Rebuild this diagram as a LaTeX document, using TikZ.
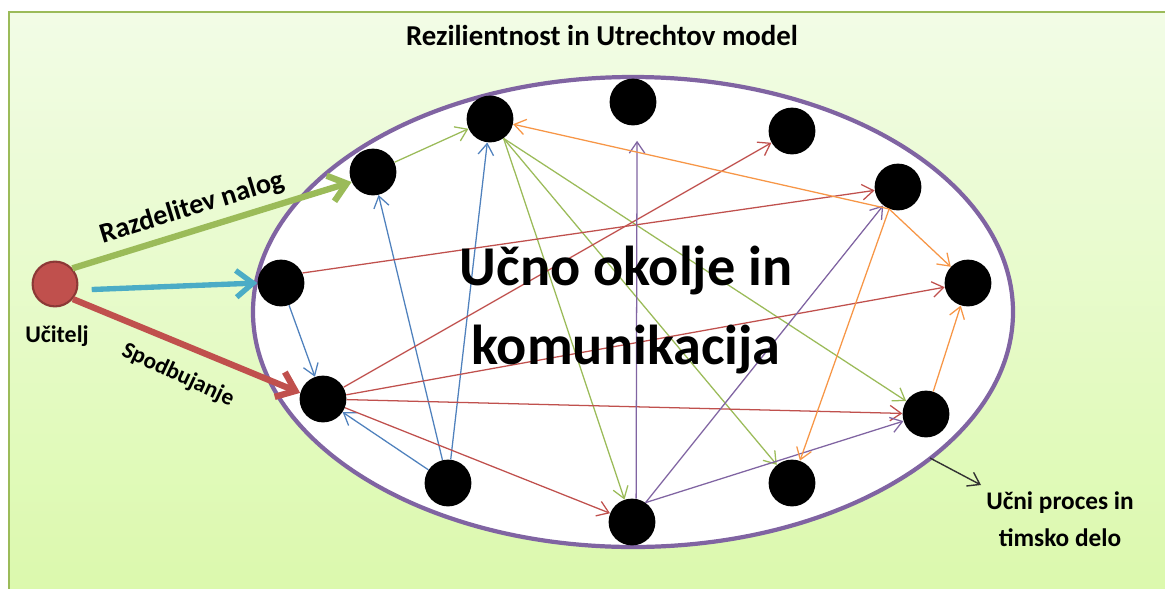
\documentclass[tikz,border=0pt]{standalone}
\usepackage{fontspec}
\setmainfont{Carlito}
\usetikzlibrary{arrows.meta, positioning, calc}
\definecolor{ofGreen}{HTML}{9BBB59}
\definecolor{ofBlue}{HTML}{4F81BD}
\definecolor{ofAqua}{HTML}{4BACC6}
\definecolor{ofRed}{HTML}{C0504D}
\definecolor{ofDarkRed}{HTML}{8C3836}
\definecolor{ofPurple}{HTML}{8064A2}
\definecolor{ofOrange}{HTML}{F79646}
\definecolor{bgTop}{HTML}{F2FCE6}
\definecolor{bgBottom}{HTML}{DBF9AC}
\tikzset{
  dot/.style={circle, fill=black, minimum size=1.17cm, inner sep=0pt},
  link/.style={line width=0.9pt, -{Straight Barb[length=8pt,width=11pt]}},
  bigarrow/.style={line width=4.5pt, -{Straight Barb[length=12pt,width=19pt]}},
  lbl/.style={font=\fontsize{17}{20}\selectfont\bfseries, text=black}
}

\begin{document}
\begin{tikzpicture}[x=0.025cm, y=-0.025cm]
  \clip (0,0) rectangle (1165,588);
  \fill[white] (0,0) rectangle (1165,588);
  % background frame
  \shade[top color=bgTop, bottom color=bgBottom] (9,12) rectangle (1175,600);
  \draw[ofGreen, line width=1.2pt] (9,12) rectangle (1175,600);

  % environment
  \draw[ofPurple, line width=3pt, fill=white] (633,312) ellipse [x radius=380, y radius=235];

  % teacher
  \node[circle, fill=ofRed, draw=ofDarkRed, line width=1.5pt, minimum size=1.12cm] (u) at (55,284) {};
  \node[lbl, anchor=base] (ucitelj) at (57,342) {Učitelj};

  % pupils
  \node[dot] (d1) at (373,172) {};
  \node[dot] (d2) at (490,119) {};
  \node[dot] (d3) at (633,102) {};
  \node[dot] (d4) at (792,131) {};
  \node[dot] (d5) at (898,187) {};
  \node[dot] (d6) at (968,283) {};
  \node[dot] (d7) at (926,414) {};
  \node[dot] (d8) at (792,483) {};
  \node[dot] (d9) at (632,522) {};
  \node[dot] (d10) at (448,483) {};
  \node[dot] (d11) at (323,399) {};
  \node[dot] (d12) at (281,283) {};

  % teacher to pupils
  \draw[bigarrow, ofGreen] (u.42) -- (d1.205);
  \draw[bigarrow, ofAqua, line width=3.8pt, shorten <=10pt] (u.-15) -- (d12.west);
  \draw[bigarrow, ofRed] (u.-40) -- (d11.165);
  \node[lbl, font=\fontsize{20}{24}\selectfont\bfseries, rotate=17] (razdelitev) at (192,208) {Razdelitev nalog};
  \node[lbl, font=\fontsize{16.5}{20}\selectfont\bfseries, rotate=-25] (spodbujanje) at (178,375) {Spodbujanje};

  % green
  \draw[link, ofGreen] (d1) -- (d2);
  \draw[link, ofGreen] (d2.-55) -- (d9);
  \draw[link, ofGreen] (d2.-55) -- (d8);
  \draw[link, ofGreen] (d2.-55) -- (d7);
  % blue
  \draw[link, ofBlue] (d12) -- (d11);
  \draw[link, ofBlue] (d10) -- (d11);
  \draw[link, ofBlue] (d10) -- (d1);
  \draw[link, ofBlue] (d10) -- (d2);
  % red
  \draw[link, ofRed] (d12.25) -- (d5);
  \draw[link, ofRed] (d11) -- (d4);
  \draw[link, ofRed] (d11) -- (d6);
  \draw[link, ofRed] (d11) -- (d7);
  \draw[link, ofRed] (d11) -- (d9);
  % purple
  \draw[link, ofPurple, shorten >=11pt] (d9.80) -- (d3.-80);
  \draw[link, ofPurple] (d9.55) -- (d5);
  \draw[link, ofPurple] (d9.55) -- (d7);
  % orange
  \draw[link, ofOrange] (d5.248) -- (d2);
  \draw[link, ofOrange] (d5.248) -- (d6);
  \draw[link, ofOrange] (d5.248) -- (d8);
  \draw[link, ofOrange] (d7) -- (d6);

  % texts
  \node[lbl, font=\fontsize{20.5}{24}\selectfont\bfseries, anchor=base] (naslov) at (602,45) {Rezilientnost in Utrechtov model};
  \node[font=\fontsize{40}{55.5}\selectfont\bfseries, align=center] (okolje) at (626,310) {Učno okolje in\\komunikacija};

  \coordinate (rob) at (930,458);
  \coordinate (konec) at (981,485);
  \draw[line width=1pt, black!80, -{Straight Barb[length=8pt,width=11pt]}] (rob) -- (konec);
  \node[lbl, font=\fontsize{18}{26}\selectfont\bfseries, align=center] (proces) at (1060,519) {Učni proces in\\timsko delo};
\end{tikzpicture}
\end{document}
